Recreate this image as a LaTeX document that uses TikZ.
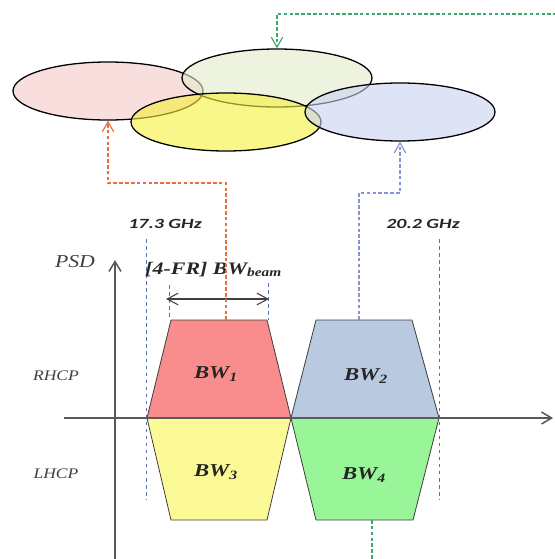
\documentclass[tikz,border=0pt]{standalone}
\usepackage{fontspec}
\usepackage{graphicx}
\setmainfont{Liberation Serif}
\newfontfamily\calibfont{Carlito}
\usetikzlibrary{arrows.meta,shapes.geometric}
\newcommand{\wtext}[2][1.25]{\scalebox{#1}[1]{#2}}
\definecolor{pinkbeam}{RGB}{245,200,200}
\definecolor{greenbeam}{RGB}{225,235,200}
\definecolor{yellowbeam}{RGB}{245,240,60}
\definecolor{bluebeam}{RGB}{200,210,240}
\definecolor{bwred}{RGB}{249,140,140}
\definecolor{bwblue}{RGB}{184,201,224}
\definecolor{bwyellow}{RGB}{252,250,150}
\definecolor{bwgreen}{RGB}{152,245,152}
\definecolor{linkorange}{RGB}{232,112,58}
\definecolor{linkblue}{RGB}{135,145,215}
\definecolor{linkgreen}{RGB}{60,170,110}
\definecolor{guideblue}{RGB}{90,110,180}
\tikzset{
    beam/.style  = {ellipse, draw=black, line width=1.1pt, minimum width=5.7cm,
                    minimum height=1.74cm, inner sep=0pt, fill opacity=0.6},
    band/.style  = {draw=black!75, line width=0.7pt},
    link/.style  = {densely dashed, line width=1pt, -{Straight Barb[length=3mm, width=3.4mm]}},
    guide/.style = {dashed, draw=guideblue, line width=0.45pt},
    axis/.style  = {draw=black!65, line width=1.3pt, -{Straight Barb[length=3mm, width=3.6mm]}},
    freq/.style  = {font=\calibfont\fontsize{12}{12}\selectfont\bfseries\itshape, text=black!85},
    pol/.style   = {font=\fontsize{12.5}{12.5}\selectfont\itshape, text=black!75},
    bwlabel/.style = {font=\fontsize{15.5}{15.5}\selectfont\bfseries\itshape, text=black!85}
}
\begin{document}
\begin{tikzpicture}[x=0.03cm, y=-0.03cm]
    \useasboundingbox (0,0) rectangle (554,559);
    % coverage of the beams
    \node[beam, fill=pinkbeam]   (beam1) at (108,91)  {};
    \node[beam, fill=greenbeam]  (beam4) at (277,78)  {};
    \node[beam, fill=yellowbeam] (beam3) at (226,122) {};
    \node[beam, fill=bluebeam]   (beam2) at (400,112) {};
    % frequency guides
    \draw[guide] (146,239) -- (146,500);
    \draw[guide] (439,239) -- (439,500);
    \draw[guide] (169,285) -- (169,320);
    \draw[guide] (268,283) -- (268,320);
    % spectrum
    \draw[band, fill=bwred]    (171,320) -- (267,320) -- (291,418) -- (147,418) -- cycle;
    \draw[band, fill=bwblue]   (316,320) -- (412,320) -- (439,418) -- (291,418) -- cycle;
    \draw[band, fill=bwyellow] (147,418) -- (291,418) -- (267,520) -- (171,520) -- cycle;
    \draw[band, fill=bwgreen]  (291,418) -- (439,418) -- (413,520) -- (316,520) -- cycle;
    \coordinate (bw1top) at (226,320);
    \coordinate (bw2top) at (359,320);
    \coordinate (bw4bot) at (372,520);
    \node[bwlabel] (bw1) at (216,374) {\wtext{BW\textsubscript{1}}};
    \node[bwlabel] (bw2) at (366,376) {\wtext{BW\textsubscript{2}}};
    \node[bwlabel] (bw3) at (216,472) {\wtext{BW\textsubscript{3}}};
    \node[bwlabel] (bw4) at (364,475) {\wtext{BW\textsubscript{4}}};
    % axes
    \coordinate (yfoot) at (115,559);
    \coordinate (ytip)  at (115,260);
    \coordinate (xfoot) at (64,418);
    \coordinate (xtip)  at (553,418);
    \draw[axis] (yfoot) -- (ytip);
    \draw[axis] (xfoot) -- (xtip);
    \coordinate (bwl) at (166,299);
    \coordinate (bwr) at (269,299);
    \draw[draw=black!75, line width=0.9pt, {Straight Barb[length=3.3mm, width=3.5mm]}-{Straight Barb[length=3.3mm, width=3.5mm]}] (bwl) -- (bwr);
    % texts
    \node[freq] (f173) at (165,224) {\wtext[1.42]{17.3 GHz}};
    \node[freq] (f202) at (423,224) {\wtext[1.42]{20.2 GHz}};
    \node[pol, font=\fontsize{15.5}{15.5}\selectfont\itshape] (psd) at (75,262) {\wtext[1.2]{PSD}};
    \node[pol] (rhcp) at (56,376) {\wtext[1.2]{RHCP}};
    \node[pol] (lhcp) at (56,474) {\wtext[1.2]{LHCP}};
    \node[anchor=base west, inner sep=0pt, font=\fontsize{15}{15}\selectfont\bfseries\itshape, text=black!85] (bwbeam) at (145,274) {\wtext{[4-FR] BW\textsubscript{beam}}};
    % links to the beams
    \draw[link, draw=linkorange] (bw1top) |- (108,183) -- (beam1.south);
    \draw[link, draw=linkblue]   (bw2top) |- (400,193) -- (beam2.south);
    \draw[link, draw=linkgreen]  (bw4bot) -- (372,600) -| (600,14) -| (beam4.north);
\end{tikzpicture}
\end{document}
